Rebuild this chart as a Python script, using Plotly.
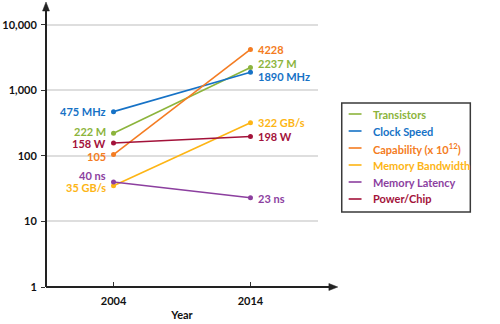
import math
import plotly.graph_objects as go

# --- data -------------------------------------------------------------
years = [2004, 2014]
series_names = [
    "Transistors",
    "Clock Speed",
    "Capability (x 10<sup>12</sup>)",
    "Memory Bandwidth",
    "Memory Latency",
    "Power/Chip",
]
transistors = [222, 2237]
clock_speed = [475, 1890]
capability = [105, 4228]
memory_bandwidth = [35, 322]
memory_latency = [40, 23]
power_chip = [158, 198]
units = ["M", "MHz", "", "GB/s", "ns", "W"]
y_tick_values = [1, 10, 100, 1000, 10000]
y_tick_labels = ["1", "10", "100", "1,000", "10,000"]

series_values = [transistors, clock_speed, capability,
                 memory_bandwidth, memory_latency, power_chip]

# --- styling ----------------------------------------------------------
colors = ["#8cb43c", "#1672c6", "#f47c22", "#fdb515", "#8c3f9f", "#a3123a"]
# vertical nudges (px) for end labels so neighbours do not collide
left_shift = [2, 0, -2, -2, 7, -1]
right_shift = [4, -4, 0, 0, -1, 0]

FONT = "Lato"
FS = 11
W, H = 500, 324
L, R, T, B = 43, 182, 2, 37
PW, PH = W - L - R, H - T - B
AXIS_COLOR = "#222222"


def px_x(p):
    return (p - L) / PW


def px_y(p):
    return (H - B - p) / PH


fig = go.Figure()

for name, vals, col, unit, ls, rs in zip(series_names, series_values, colors,
                                         units, left_shift, right_shift):
    fig.add_trace(go.Scatter(
        x=years, y=vals, mode="lines+markers", name=name,
        line=dict(color=col, width=1.6),
        marker=dict(color=col, size=5),
        showlegend=False, hoverinfo="skip",
    ))
    for i, (xv, v) in enumerate(zip(years, vals)):
        label = f"{v} {unit}".strip()
        fig.add_annotation(
            x=xv, y=math.log10(v), xref="x", yref="y", text=label,
            showarrow=False,
            xanchor="right" if i == 0 else "left",
            xshift=-6 if i == 0 else 6,
            yshift=ls if i == 0 else rs,
            font=dict(family=FONT, size=FS, color=col, weight="bold"),
        )

# legend box drawn with shapes so the short line samples fit the frame
fig.add_shape(type="rect", xref="paper", yref="paper",
              x0=px_x(342), x1=px_x(472), y0=px_y(212), y1=px_y(103),
              line=dict(color="#3a3a3a", width=1.5), fillcolor="white")
row_y0, row_step = 114, 17
for k, (name, col) in enumerate(zip(series_names, colors)):
    yy = px_y(row_y0 + k * row_step)
    fig.add_shape(type="line", xref="paper", yref="paper",
                  x0=px_x(349), x1=px_x(362), y0=yy, y1=yy,
                  line=dict(color=col, width=1.6))
    fig.add_annotation(x=px_x(372), y=yy, xref="paper", yref="paper",
                       text=name, showarrow=False, xanchor="left",
                       yanchor="middle",
                       font=dict(family=FONT, size=FS, color=col,
                                 weight="bold"))

# axis lines ending in small arrowheads
x_end, y_top = 338, 2
fig.add_shape(type="line", xref="paper", yref="paper",
              x0=0, y0=0, x1=0, y1=px_y(y_top + 4),
              line=dict(color=AXIS_COLOR, width=2))
fig.add_shape(type="line", xref="paper", yref="paper",
              x0=0, y0=0, x1=px_x(x_end - 4), y1=0,
              line=dict(color=AXIS_COLOR, width=2))
fig.add_shape(type="path", xref="paper", yref="paper",
              path=(f"M {px_x(L - 3.5)} {px_y(y_top + 9)} "
                    f"L {px_x(L)} {px_y(y_top)} "
                    f"L {px_x(L + 3.5)} {px_y(y_top + 9)} Z"),
              fillcolor=AXIS_COLOR, line=dict(color=AXIS_COLOR, width=0.5))
fig.add_shape(type="path", xref="paper", yref="paper",
              path=(f"M {px_x(x_end - 9)} {px_y(H - B - 3.5)} "
                    f"L {px_x(x_end)} {px_y(H - B)} "
                    f"L {px_x(x_end - 9)} {px_y(H - B + 3.5)} Z"),
              fillcolor=AXIS_COLOR, line=dict(color=AXIS_COLOR, width=0.5))

fig.update_layout(
    width=W, height=H,
    margin=dict(l=L, r=R, t=T, b=B, pad=0),
    plot_bgcolor="white", paper_bgcolor="white",
    font=dict(family=FONT, size=FS, color="#111"),
    xaxis=dict(
        range=[1999.07, 2018.93], tickvals=years,
        ticks="inside", ticklen=5, tickwidth=1, tickcolor="#333",
        ticklabelstandoff=6,
        showgrid=False, zeroline=False, showline=False,
        tickfont=dict(family=FONT, size=FS, color="#111", weight="bold"),
        title=dict(text="Year", standoff=5,
                   font=dict(family=FONT, size=FS, color="#111",
                             weight="bold")),
    ),
    yaxis=dict(
        type="log", range=[0, 4.35],
        tickvals=y_tick_values, ticktext=y_tick_labels,
        ticks="outside", ticklen=4, tickwidth=1, tickcolor="#333",
        ticklabelstandoff=2,
        showgrid=True, gridcolor="#dedede", gridwidth=1.5,
        zeroline=False, showline=False,
        tickfont=dict(family=FONT, size=FS, color="#111", weight="bold"),
    ),
)

fig.write_html("out.html")
